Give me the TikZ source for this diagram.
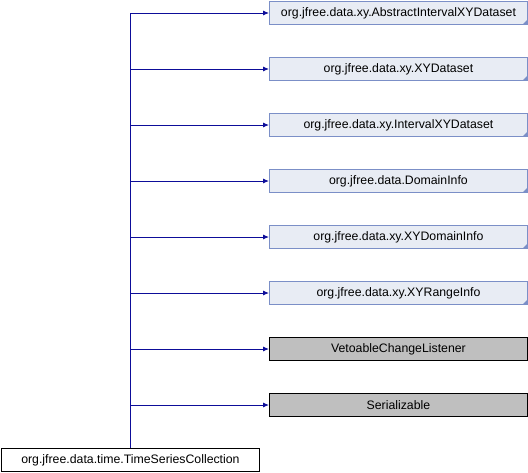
\documentclass[tikz,border=0pt]{standalone}
\usepackage{fontspec}
\setmainfont{Liberation Sans}
\usetikzlibrary{arrows.meta}
\definecolor{extfill}{HTML}{E8ECF4}
\definecolor{extdraw}{HTML}{7B8FC7}
\definecolor{ifill}{HTML}{BFBFBF}
\definecolor{edge}{HTML}{0D0D99}
\begin{document}
\begin{tikzpicture}[x=1pt,y=-1pt,
  cls/.style={draw, minimum width=258pt, minimum height=23pt, inner sep=0pt,
    font=\fontsize{12.3pt}{14pt}\selectfont, anchor=west, line width=0.9pt},
  extcls/.style={cls, fill=extfill, draw=extdraw},
  grey/.style={cls, fill=ifill, draw=black},
  base/.style={cls, fill=white, draw=black, minimum width=258pt},
  inh/.style={draw=edge, line width=0.9pt, -{Latex[length=6pt,width=5pt]}}]
\useasboundingbox (0,0) rectangle (528,472);
% base classes and interfaces
\foreach \name/\lbl/\y in {
  a/org.jfree.data.xy.AbstractIntervalXYDataset/13,
  b/org.jfree.data.xy.XYDataset/69,
  c/org.jfree.data.xy.IntervalXYDataset/125,
  d/org.jfree.data.DomainInfo/181,
  e/org.jfree.data.xy.XYDomainInfo/237,
  f/org.jfree.data.xy.XYRangeInfo/293}{
  \node[extcls] (\name) at (269,\y) {\lbl};
  \fill[extdraw] ([xshift=-0.4pt,yshift=0.4pt]\name.south east) -- ++(-5,0) -- ++(5,-5) -- cycle;
}
\node[grey] (g) at (269,349) {VetoableChangeListener};
\node[grey] (h) at (269,405) {Serializable};
% derived class
\node[base] (t) at (1,460) {org.jfree.data.time.TimeSeriesCollection};
% inheritance edges
\coordinate (j) at (130,13);
\draw[draw=edge, line width=0.9pt] (t.north -| j) -- (j);
\foreach \name in {a,b,c,d,e,f,g,h}{
  \draw[inh] (\name.west -| j) -- (\name.west);
}
\end{tikzpicture}
\end{document}
